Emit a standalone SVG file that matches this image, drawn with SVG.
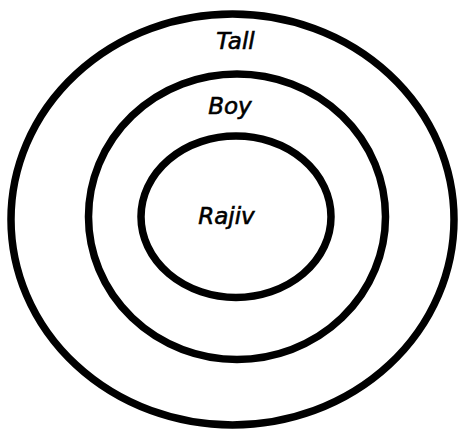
<svg xmlns="http://www.w3.org/2000/svg" width="462" height="429" viewBox="0 0 462 429">
<style>
.ring{fill:none;stroke:#000;stroke-width:7.5}
.lbl{font-family:"DejaVu Sans","Liberation Sans",sans-serif;font-style:italic;font-size:23px;fill:#000;stroke:#000;stroke-width:0.6;text-anchor:middle}
</style>
<rect width="462" height="429" fill="#fff"/>
<g id="tall">
<ellipse class="ring" cx="232.5" cy="219.5" rx="221.5" ry="205.5"/>
<text class="lbl" x="235.5" y="49">Tall</text>
</g>
<g id="boy">
<ellipse class="ring" cx="237" cy="216.7" rx="148.5" ry="142.7"/>
<text class="lbl" x="230" y="114">Boy</text>
</g>
<g id="rajiv">
<ellipse class="ring" cx="236" cy="216.7" rx="95" ry="80.7"/>
<text class="lbl" x="226.5" y="224">Rajiv</text>
</g>
<g id="connectors"/>
</svg>
